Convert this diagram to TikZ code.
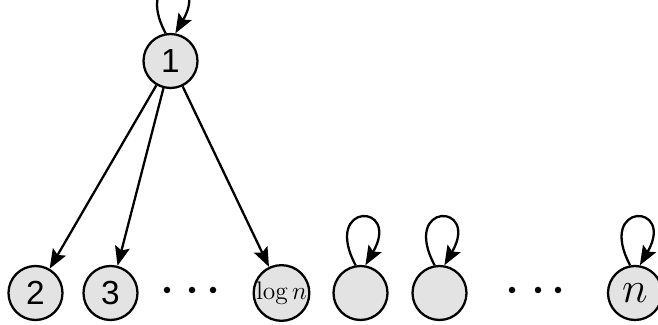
\documentclass[tikz,border=0pt]{standalone}
\usepackage{amsmath}
\usepackage{fontspec}
\setsansfont{Liberation Sans}
\usetikzlibrary{arrows.meta}

\begin{document}
\begin{tikzpicture}[
        vert/.style={circle, draw, line width=1.3pt, fill=black!11, minimum size=1.08cm, inner sep=0pt},
        arc/.style={-{Stealth[length=11pt,width=8.5pt,inset=2pt]}, line width=1.3pt},
        selfloop/.style={arc, out=118, in=60, distance=1.45cm},
        dot/.style={circle, fill, inner sep=0pt, minimum size=0.13cm}
    ]
        \useasboundingbox (0,0) rectangle (13.16,6.5);

        \node[vert, font=\fontsize{19}{20}\sffamily] (v1) at (3.41,5.28) {1};
        \node[vert, font=\fontsize{19}{20}\sffamily] (v2) at (0.71,0.64) {2};
        \node[vert, font=\fontsize{19}{20}\sffamily] (v3) at (2.21,0.64) {3};
        \node[vert, font=\fontsize{14.5}{15}\selectfont] (vlog) at (5.63,0.64) {$\log n$};
        \node[vert] (va) at (7.21,0.64) {};
        \node[vert] (vb) at (8.79,0.64) {};
        \node[vert, font=\fontsize{25}{26}\selectfont] (vn) at (12.7,0.64) {$n$};

        % dots between the vertices
        \foreach \x [count=\i] in {3.34,3.84,4.26} \node[dot] (d\i) at (\x,0.70) {};
        \foreach \x [count=\i] in {10.24,10.76,11.16} \node[dot] (e\i) at (\x,0.70) {};

        \draw[arc] (v1) -- (v2);
        \draw[arc] (v1) -- (v3);
        \draw[arc] (v1) -- (vlog);

        % self loops, both ends close to the top
        \foreach \v in {v1,va,vb,vn}
            \draw[selfloop] (\v.100) to (\v.80);
    \end{tikzpicture}
\end{document}
